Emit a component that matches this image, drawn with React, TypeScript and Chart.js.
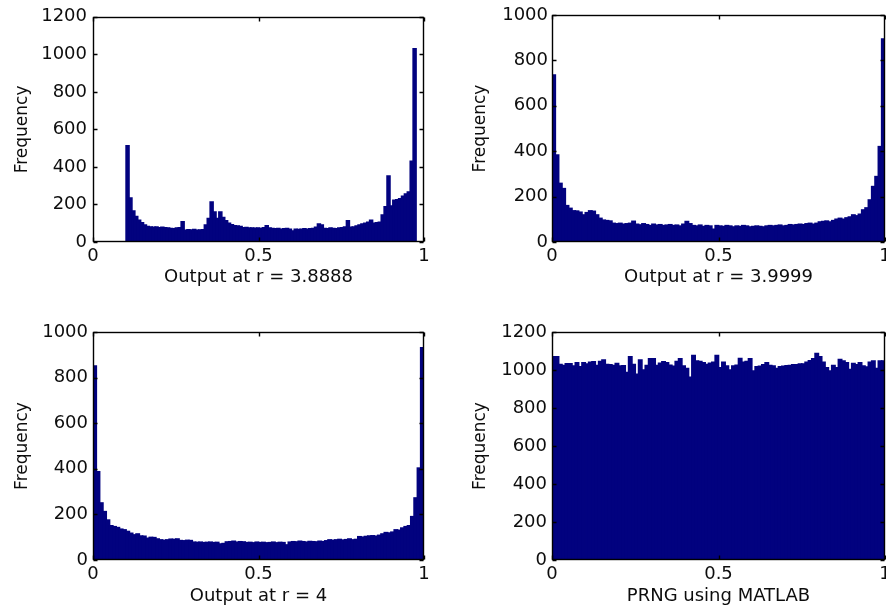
import React, { useEffect, useRef } from 'react';
import { Chart, registerables } from 'chart.js';

Chart.register(...registerables);

// ---------------- data ----------------
const X_TICKS = [0, 0.5, 1];
const Y_TICK_STEP = 200;

// Histogram of logistic-map output, r = 3.8888 (100 bins over the data range)
const R38888_RANGE = [0.1, 0.976];
const R38888_COUNTS = [
  513, 234, 165, 135, 115, 102, 90, 82, 80, 78,
  80, 76, 78, 76, 74, 72, 70, 74, 76, 107,
  63, 65, 64, 66, 63, 64, 65, 90, 125, 213,
  160, 125, 160, 130, 113, 99, 92, 86, 85, 82,
  76, 77, 74, 75, 73, 74, 72, 76, 86, 74,
  72, 70, 72, 68, 70, 72, 68, 58, 68, 66,
  68, 70, 68, 70, 72, 78, 95, 90, 72, 70,
  74, 72, 70, 74, 76, 80, 113, 78, 80, 85,
  90, 95, 100, 105, 116, 100, 102, 105, 143, 187,
  351, 192, 222, 225, 230, 243, 255, 266, 430, 1030,
];

// r = 3.9999
const R39999_RANGE = [0, 1];
const R39999_COUNTS = [
  736, 383, 258, 235, 160, 148, 137, 136, 131, 119,
  129, 137, 135, 119, 104, 96, 94, 92, 82, 80,
  82, 78, 80, 82, 91, 78, 75, 80, 76, 72,
  78, 74, 76, 72, 74, 76, 72, 74, 70, 78,
  90, 80, 72, 70, 74, 68, 72, 70, 56, 72,
  70, 68, 72, 70, 66, 70, 68, 72, 70, 66,
  68, 70, 68, 66, 70, 72, 70, 72, 74, 70,
  72, 76, 74, 76, 78, 76, 80, 82, 78, 82,
  88, 90, 92, 88, 94, 100, 104, 100, 106, 110,
  119, 115, 122, 141, 150, 185, 244, 288, 420, 894,
];

// r = 4
const R4_RANGE = [0, 1];
const R4_COUNTS = [
  851, 387, 250, 212, 175, 150, 146, 142, 135, 132,
  125, 117, 110, 114, 105, 104, 95, 99, 98, 92,
  88, 86, 88, 91, 90, 92, 85, 84, 86, 85,
  78, 77, 78, 76, 77, 78, 76, 77, 70, 72,
  79, 80, 82, 78, 80, 79, 76, 77, 75, 78,
  76, 77, 75, 76, 78, 75, 77, 76, 66, 78,
  80, 79, 82, 80, 78, 81, 80, 79, 82, 80,
  84, 88, 86, 88, 90, 87, 89, 92, 88, 90,
  102, 100, 103, 105, 106, 104, 108, 114, 120, 118,
  122, 132, 130, 140, 146, 150, 190, 272, 403, 931,
];

// PRNG using MATLAB
const PRNG_RANGE = [0, 1];
const PRNG_COUNTS = [
  1069, 1069, 1029, 1024, 1033, 1033, 1021, 1038, 1017, 1038,
  1031, 1040, 1043, 1024, 1045, 1052, 1029, 1027, 1024, 1034,
  1021, 1022, 986, 1069, 1029, 978, 1052, 1000, 1024, 1059,
  1059, 1024, 1035, 1043, 1038, 1025, 1020, 1045, 1059, 1021,
  1007, 962, 1076, 1047, 1045, 1038, 1029, 1035, 1041, 1076,
  1012, 1041, 1021, 1000, 1021, 1025, 1060, 1040, 1045, 1059,
  995, 1017, 1019, 1027, 1038, 1024, 1021, 1007, 1017, 1019,
  1022, 1024, 1028, 1028, 1031, 1031, 1041, 1048, 1059, 1086,
  1070, 1040, 1012, 995, 1024, 1012, 1055, 1047, 1038, 1003,
  1034, 1028, 1038, 1021, 1015, 1040, 1047, 1007, 1047, 1047,
];

// ---------------- style ----------------
const NAVY = '#02027f';
const TEXT = '#0d0d0d';
const FONT = "'DejaVu Sans', sans-serif";
const FONT_SIZE = 18;
const Y_TITLE_SIZE = 17;

type Panel = {
  counts: number[];
  range: number[];
  yMax: number;
  xTitle: string;
  left: number;
  top: number;
  width: number;
  height: number;
  padTop: number;
  padRight: number;
  yAxisWidth: number;
  xAxisHeight: number;
  yLabelPad: number;
  yTitlePad: number;
  xTitlePad: number;
};

const PANELS: Panel[] = [
  {
    counts: R38888_COUNTS, range: R38888_RANGE, yMax: 1200, xTitle: 'Output at r = 3.8888',
    left: 0, top: 0, width: 443, height: 300, padTop: 15, padRight: 19,
    yAxisWidth: 93, xAxisHeight: 58, yLabelPad: 6, yTitlePad: 12, xTitlePad: 12,
  },
  {
    counts: R39999_COUNTS, range: R39999_RANGE, yMax: 1000, xTitle: 'Output at r = 3.9999',
    left: 443, top: 0, width: 460, height: 300, padTop: 15, padRight: 18,
    yAxisWidth: 109, xAxisHeight: 58, yLabelPad: 4, yTitlePad: 27, xTitlePad: 12,
  },
  {
    counts: R4_COUNTS, range: R4_RANGE, yMax: 1000, xTitle: 'Output at r = 4',
    left: 0, top: 300, width: 443, height: 309, padTop: 32, padRight: 19,
    yAxisWidth: 93, xAxisHeight: 49, yLabelPad: 5, yTitlePad: 12, xTitlePad: 2,
  },
  {
    counts: PRNG_COUNTS, range: PRNG_RANGE, yMax: 1200, xTitle: 'PRNG using MATLAB',
    left: 443, top: 300, width: 460, height: 309, padTop: 32, padRight: 18,
    yAxisWidth: 109, xAxisHeight: 49, yLabelPad: 5, yTitlePad: 27, xTitlePad: 2,
  },
];

// Box with inward tick marks on all four sides (MATLAB style)
const framePlugin = {
  id: 'matlabFrame',
  afterDatasetsDraw(chart: any) {
    const { ctx, chartArea: a, scales } = chart;
    const L = Math.round(a.left) + 0.5;
    const R = Math.round(a.right) - 0.5;
    const T = Math.round(a.top) + 0.5;
    const B = Math.round(a.bottom) - 0.5;
    const len = 4;
    ctx.save();
    ctx.strokeStyle = '#000';
    ctx.lineWidth = 1.4;
    ctx.beginPath();
    for (const t of scales.y.ticks) {
      const y = Math.round(scales.y.getPixelForValue(t.value)) + 0.5;
      ctx.moveTo(L, y); ctx.lineTo(L + len, y);
      ctx.moveTo(R, y); ctx.lineTo(R - len, y);
    }
    for (const t of scales.x.ticks) {
      const x = Math.round(scales.x.getPixelForValue(t.value)) + 0.5;
      ctx.moveTo(x, B); ctx.lineTo(x, B - len);
      ctx.moveTo(x, T); ctx.lineTo(x, T + len);
    }
    ctx.stroke();
    ctx.strokeRect(L, T, R - L, B - T);
    ctx.restore();
  },
};

function HistPanel({ p }: { p: Panel }) {
  const ref = useRef<HTMLCanvasElement | null>(null);
  useEffect(() => {
    if (!ref.current) return;
    const [lo, hi] = p.range;
    const w = (hi - lo) / p.counts.length;
    const points = p.counts.map((c, i) => ({ x: lo + (i + 0.5) * w, y: c }));
    const font = { family: FONT, size: FONT_SIZE };
    const chart = new Chart(ref.current, {
      type: 'bar',
      data: {
        datasets: [
          {
            data: points as any,
            backgroundColor: NAVY,
            borderColor: NAVY,
            borderWidth: 0,
            inflateAmount: 0.8,
            barPercentage: 1,
            categoryPercentage: 1,
          },
        ],
      },
      options: {
        responsive: false,
        animation: false,
        events: [],
        layout: { padding: { top: p.padTop, right: p.padRight, left: 0, bottom: 0 } },
        plugins: { legend: { display: false }, tooltip: { enabled: false } },
        scales: {
          x: {
            type: 'linear',
            min: 0,
            max: 1,
            offset: false,
            grid: { display: false, drawTicks: false },
            border: { display: false },
            afterBuildTicks: (s: any) => {
              s.ticks = X_TICKS.map((v) => ({ value: v }));
            },
            ticks: {
              padding: 4,
              font,
              color: TEXT,
              maxRotation: 0,
              autoSkip: false,
              callback: (v: any) => String(v),
            },
            title: {
              display: true,
              text: p.xTitle,
              font,
              color: TEXT,
              padding: { top: 0, bottom: p.xTitlePad },
            },
            afterFit: (s: any) => {
              s.height = p.xAxisHeight;
            },
          },
          y: {
            type: 'linear',
            min: 0,
            max: p.yMax,
            grid: { display: false, drawTicks: false },
            border: { display: false },
            ticks: {
              stepSize: Y_TICK_STEP,
              padding: p.yLabelPad,
              font,
              color: TEXT,
              autoSkip: false,
              callback: (v: any) => String(v),
            },
            title: {
              display: true,
              text: 'Frequency',
              font: { family: FONT, size: Y_TITLE_SIZE },
              color: TEXT,
              padding: { top: p.yTitlePad, bottom: 0 },
            },
            afterFit: (s: any) => {
              s.width = p.yAxisWidth;
            },
          },
        },
      } as any,
      plugins: [framePlugin],
    });
    return () => chart.destroy();
  }, [p]);
  return (
    <canvas
      ref={ref}
      width={p.width}
      height={p.height}
      style={{ position: 'absolute', left: p.left, top: p.top, width: p.width, height: p.height }}
    />
  );
}

export default function App() {
  return (
    <div
      style={{
        position: 'absolute',
        left: 0,
        top: 0,
        width: 886,
        height: 609,
        overflow: 'hidden',
        background: '#fff',
      }}
    >
      {PANELS.map((p, i) => (
        <HistPanel key={i} p={p} />
      ))}
    </div>
  );
}
